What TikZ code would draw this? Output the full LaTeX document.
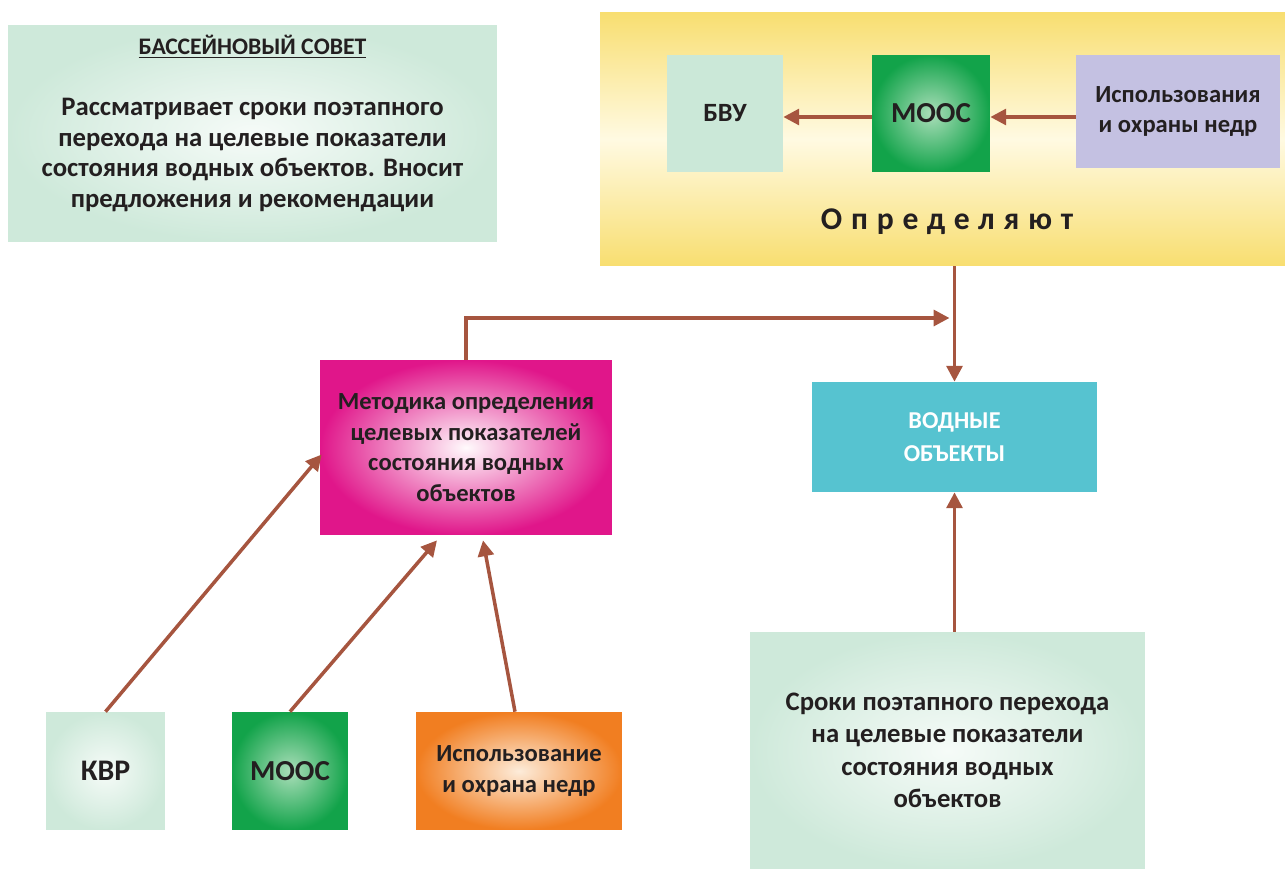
\documentclass[tikz,border=0pt]{standalone}
\usepackage{fontspec}
\setmainfont{Carlito}
\usetikzlibrary{arrows.meta, calc}
\definecolor{inkdark}{RGB}{35,31,32}
\definecolor{arrowbrown}{RGB}{166,85,63}
\definecolor{paleout}{RGB}{206,233,218}
\definecolor{palein}{RGB}{246,251,248}
\definecolor{yellowedge}{RGB}{248,222,112}
\definecolor{yellowmid}{RGB}{255,250,226}
\definecolor{mintflat}{RGB}{203,232,216}
\definecolor{mooout}{RGB}{18,163,74}
\definecolor{mooin}{RGB}{170,222,185}
\definecolor{lavender}{RGB}{196,193,226}
\definecolor{magout}{RGB}{224,22,138}
\definecolor{magin}{RGB}{255,250,252}
\definecolor{waterblue}{RGB}{86,195,208}
\definecolor{orangeout}{RGB}{241,126,33}
\definecolor{orangein}{RGB}{253,236,218}
\newcommand{\bodyfont}{\fontsize{14}{17.5}\selectfont\bfseries}
\newcommand{\boxfont}{\fontsize{16.5}{19}\selectfont\bfseries}

\begin{document}
\begin{tikzpicture}[x=0.02cm, y=-0.02cm,
  every node/.style={text=inkdark, align=center, inner sep=0pt},
  pale/.style={shading=radial, inner color=palein, outer color=paleout},
  arr/.style={draw=arrowbrown, line width=2pt, -{Triangle[length=9pt, width=9pt]}}]
\useasboundingbox (0,0) rectangle (1285,869);

% Basin council
\node[pale, minimum width=9.78cm, minimum height=4.34cm] (council) at (252.5,133.5) {};
\node[font=\fontsize{13.5}{15}\selectfont\bfseries] (counciltitle) at (252.5,47) {\underline{БАССЕЙНОВЫЙ СОВЕТ}};
\node[font=\fontsize{15.2}{17.4}\selectfont\bfseries] (counciltext) at (252.5,155) {Рассматривает сроки поэтапного\\перехода на целевые показатели\\состояния водных объектов. Вносит\\предложения и рекомендации};

% Upper block
\node[top color=yellowedge, bottom color=yellowedge, middle color=yellowmid,
  minimum width=13.7cm, minimum height=5.08cm] (yellowbg) at (942.5,139) {};
\node[fill=mintflat, minimum width=2.32cm, minimum height=2.34cm, font=\fontsize{15}{18}\selectfont\bfseries] (bvu) at (725,113.5) {БВУ};
\node[shading=radial, inner color=mooin, outer color=mooout, minimum width=2.36cm, minimum height=2.34cm, font=\boxfont] (moostop) at (931,113.5) {МООС};
\node[fill=lavender, minimum width=4.08cm, minimum height=2.26cm, font=\bodyfont] (nedrtop) at (1178,111.5) {Использования\\и охраны недр};
\node[font=\fontsize{18}{21}\selectfont\bfseries\addfontfeature{LetterSpace=28}] (define) at (947,222) {Определяют};

\draw[arr] (moostop.west |- 0,117) -- (bvu.east |- 0,117);
\draw[arr] (nedrtop.west |- 0,117) -- (moostop.east |- 0,117);

% Middle
\node[shading=radial, inner color=magin, outer color=magout, minimum width=5.84cm, minimum height=3.5cm, font=\bodyfont] (method) at (466,447.5) {Методика определения\\целевых показателей\\состояния водных\\объектов};
\node[fill=waterblue, minimum width=5.7cm, minimum height=2.2cm, text=white, font=\fontsize{13.8}{19}\selectfont\bfseries] (water) at (954.5,437) {ВОДНЫЕ\\ОБЪЕКТЫ};
\coordinate (join) at (953,318);

\draw[arr] (water.north |- yellowbg.south) -- (water.north);
\draw[arr] (method.north) |- ([xshift=-2pt]join);

% Lower row
\node[pale, minimum width=7.9cm, minimum height=4.74cm, font=\fontsize{15.2}{18.5}\selectfont\bfseries] (terms) at (947.5,750.5) {Сроки поэтапного перехода\\на целевые показатели\\состояния водных\\объектов};
\node[pale, minimum width=2.38cm, minimum height=2.36cm, font=\fontsize{17}{20}\selectfont\bfseries] (kvr) at (105.5,771) {КВР};
\node[shading=radial, inner color=mooin, outer color=mooout, minimum width=2.32cm, minimum height=2.36cm, font=\boxfont] (moosbot) at (290,771) {МООС};
\node[shading=radial, inner color=orangein, outer color=orangeout, minimum width=4.12cm, minimum height=2.36cm, font=\bodyfont] (nedrbot) at (519,771) {Использование\\и охрана недр};

\draw[arr] (water.south |- terms.north) -- (water.south);
\draw[arr] (kvr.north) -- ($(method.west)+(2,7)$);
\draw[arr] (moosbot.north) -- ($(method.south)+(-29,5)$);
\draw[arr] ($(nedrbot.north)+(-4,0)$) -- ($(method.south)+(17,5)$);
\end{tikzpicture}
\end{document}
